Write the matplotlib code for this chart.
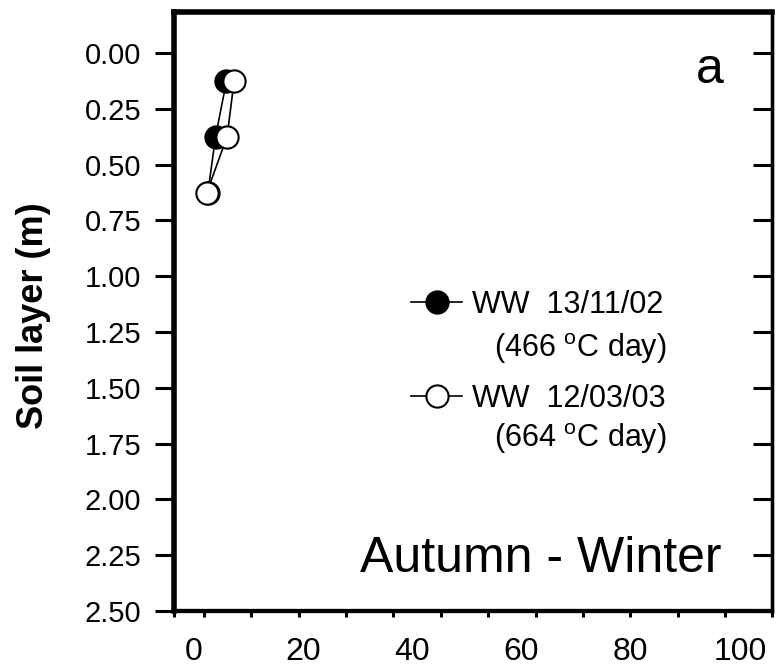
import numpy as np
import matplotlib
matplotlib.use("Agg")
import matplotlib.pyplot as plt

plt.rcParams['font.family'] = ['Liberation Sans', 'DejaVu Sans']
plt.rcParams['mathtext.fontset'] = 'custom'
plt.rcParams['mathtext.rm'] = 'Liberation Sans'

# ---- data ----
depth = [0.125, 0.375, 0.625]
ww_nov = [6.0, 4.0, 2.6]      # WW 13/11/02 (466 °C day)
ww_mar = [7.4, 6.1, 2.4]      # WW 12/03/03 (664 °C day)
label_nov = "WW  13/11/02"
label_nov2 = r"(466 $^{\mathrm{o}}$C day)"
label_mar = "WW  12/03/03"
label_mar2 = r"(664 $^{\mathrm{o}}$C day)"
xticks = [0, 20, 40, 60, 80, 100]
yticks = [0.00, 0.25, 0.50, 0.75, 1.00, 1.25, 1.50, 1.75, 2.00, 2.25, 2.50]
ylabel = "Soil layer (m)"
season = "Autumn - Winter"
panel = "a"

W, H = 779, 666
fig = plt.figure(figsize=(W / 100, H / 100), dpi=100)
ax = fig.add_axes([173.7 / W, 1 - 611 / H, (771.7 - 173.7) / W, (611 - 12) / H])

xlim = (-3.66, 105.8)
ax.set_xlim(*xlim)
ax.set_ylim(2.5, -0.184)

ms = 16
ax.plot(ww_nov, depth, '-o', color='black', lw=1.2, ms=ms, mfc='black', mec='black', mew=1.5,
        label=label_nov, zorder=3)
ax.plot(ww_mar, depth, '-o', color='black', lw=1.2, ms=ms, mfc='white', mec='black', mew=1.5,
        label=label_mar, zorder=4)

# spines
ax.spines['left'].set_linewidth(4.0)
ax.spines['top'].set_linewidth(4.0)
ax.spines['right'].set_linewidth(2.4)
ax.spines['bottom'].set_linewidth(3.1)

# y ticks
ax.set_yticks(yticks)
ax.set_yticklabels([f"{v:.2f}" for v in yticks])
ax.tick_params(axis='y', which='major', direction='out', length=13.5, width=2.2,
               labelsize=21, pad=10, left=True, right=False)
sec = ax.secondary_yaxis('right')
sec.set_yticks(yticks)
sec.set_yticklabels([])
sec.tick_params(axis='y', direction='in', length=13.5, width=2.2)
sec.spines['right'].set_linewidth(2.4)

# x ticks
ax.set_xticks(xticks)
ax.set_xticklabels([str(v) for v in xticks])
minor = list(np.arange(1.83, 100, 8.68)) + [xlim[0] + 0.01, xlim[1] - 0.01]
ax.set_xticks(minor, minor=True)
ax.tick_params(axis='x', which='major', length=0, labelsize=23, pad=19)
ax.tick_params(axis='x', which='minor', direction='out', length=4.5, width=2.2)

# labels & texts
fig.text(34 / W, 1 - 316 / H, ylabel, rotation=90, ha='center', va='center',
         fontsize=26, fontweight='bold')
ax.text((540.8 - 173.7) / 598, (611 - 571.7) / 599, season, transform=ax.transAxes,
        ha='center', va='baseline', fontsize=36)
ax.text((709.7 - 173.7) / 598, (611 - 83) / 599, panel, transform=ax.transAxes,
        ha='center', va='baseline', fontsize=36)

# legend
leg = ax.legend(loc='upper left', bbox_to_anchor=(411 / W, 1 - 290 / H),
                bbox_transform=fig.transFigure, frameon=False, fontsize=22,
                handlelength=1.67, handletextpad=0.33, labelspacing=2.08,
                borderpad=0, borderaxespad=0, markerscale=1.0)
ax.text((666.7 - 173.7) / 598, (611 - 357.3) / 599, label_nov2, transform=ax.transAxes,
        ha='right', va='baseline', fontsize=22)
ax.text((666.7 - 173.7) / 598, (611 - 446.7) / 599, label_mar2, transform=ax.transAxes,
        ha='right', va='baseline', fontsize=22)

fig.savefig("out.png", dpi=100)
